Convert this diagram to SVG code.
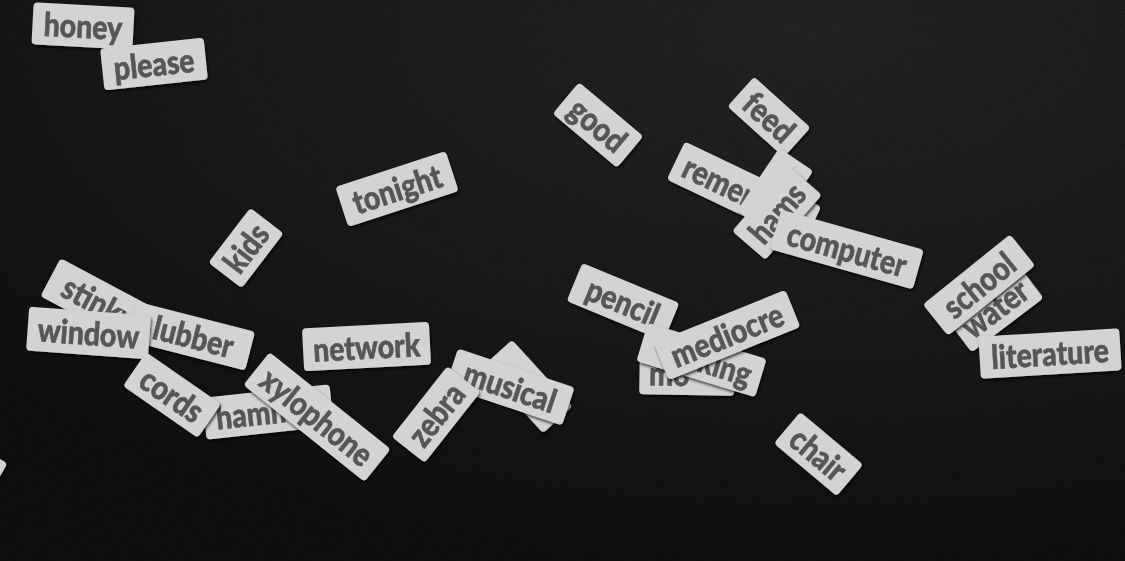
<svg xmlns="http://www.w3.org/2000/svg" width="1125" height="561" viewBox="0 0 1125 561">
<defs>
<radialGradient id="bg" cx="0.72" cy="0.05" r="0.95">
<stop offset="0" stop-color="#2b2b2b"/>
<stop offset="0.6" stop-color="#1d1d1d"/>
<stop offset="1" stop-color="#131313"/>
</radialGradient>
<filter id="grain" x="0" y="0" width="100%" height="100%">
<feTurbulence type="fractalNoise" baseFrequency="0.9" numOctaves="2" seed="3" result="n"/>
<feColorMatrix type="matrix" values="0 0 0 0 0  0 0 0 0 0  0 0 0 0 0  0 0 0 0.4 0"/>
</filter>
<filter id="sh" x="-30%" y="-30%" width="160%" height="160%">
<feDropShadow dx="1" dy="2" stdDeviation="1.6" flood-color="#000" flood-opacity="0.75"/>
</filter>
</defs>
<style>
.tile rect{fill:#d3d3d3}
.tile{filter:url(#sh)}
.t{font-family:Lato,"Open Sans","DejaVu Sans",sans-serif;font-weight:900;font-size:33px;fill:#575757;stroke:#575757;stroke-width:0.6px;text-anchor:middle}
.s{text-anchor:start}
.e{text-anchor:end}
</style>
<rect width="1125" height="561" fill="url(#bg)"/>
<rect width="1125" height="561" filter="url(#grain)"/>

<g id="tiles">
<g id="edge" class="tile"><g transform="translate(-42 459) rotate(30)"><rect x="-45" y="-21" width="90" height="42" rx="4"/></g></g>
<g id="honey" class="tile"><g transform="translate(83 26) rotate(3)"><rect x="-50.5" y="-21" width="101" height="42" rx="4"/><text class="t" y="12" transform="scale(0.86 1)">honey</text></g></g>
<g id="please" class="tile"><g transform="translate(154 64) rotate(-6)"><rect x="-52" y="-21" width="104" height="42" rx="4"/><text class="t" y="12" transform="scale(0.86 1)">please</text></g></g>
<g id="good" class="tile"><g transform="translate(598 125) rotate(40)"><rect x="-42" y="-20.5" width="84" height="41" rx="4"/><text class="t" y="12" transform="scale(0.86 1)">good</text></g></g>
<g id="feed" class="tile"><g transform="translate(769 117) rotate(42)"><rect x="-38" y="-20" width="76" height="40" rx="4"/><text class="t" y="12" transform="scale(0.86 1)">feed</text></g></g>
<g id="remember" class="tile"><g transform="translate(744 193) rotate(25.5)"><rect x="-75.5" y="-21" width="151" height="42" rx="4"/><text class="t" y="12" transform="scale(0.86 1)">remember</text></g></g>
<g id="blank-a" class="tile"><g transform="translate(775 191) rotate(-56)"><rect x="-38" y="-20.5" width="76" height="41" rx="4"/></g></g>
<g id="hams" class="tile"><g transform="translate(777 213) rotate(-49)"><rect x="-43" y="-22" width="86" height="44" rx="4"/><text class="t" y="12" transform="scale(0.86 1)">hams</text></g></g>
<g id="computer" class="tile"><g transform="translate(847 249.5) rotate(15.7)"><rect x="-74" y="-20.5" width="148" height="41" rx="4"/><text class="t" y="12" transform="scale(0.86 1)">computer</text></g></g>
<g id="tonight" class="tile"><g transform="translate(397 189) rotate(-18)"><rect x="-58" y="-21" width="116" height="42" rx="4"/><text class="t" y="12" transform="scale(0.86 1)">tonight</text></g></g>
<g id="kids" class="tile"><g transform="translate(246 248) rotate(-52.6)"><rect x="-34.5" y="-21" width="69" height="42" rx="4"/><text class="t" y="12" transform="scale(0.86 1)">kids</text></g></g>
<g id="stinky" class="tile"><g transform="translate(99 303) rotate(28)"><rect x="-55" y="-21.5" width="110" height="43" rx="4"/><text class="t" y="12" transform="scale(0.86 1)">stinky</text></g></g>
<g id="lubber" class="tile"><g transform="translate(191 336) rotate(14.3)"><rect x="-61" y="-20" width="122" height="40" rx="4"/><text class="t" x="3" y="12" transform="scale(0.86 1)">lubber</text></g></g>
<g id="window" class="tile"><g transform="translate(88.5 333) rotate(4.2)"><rect x="-61" y="-22" width="122" height="44" rx="4"/><text class="t" y="12" transform="scale(0.86 1)">window</text></g></g>
<g id="hammer" class="tile"><g transform="translate(268 412) rotate(-6)"><rect x="-64" y="-21" width="128" height="42" rx="4"/><text class="t" y="12" transform="scale(0.86 1)">hammer</text></g></g>
<g id="cords" class="tile"><g transform="translate(172 395) rotate(34.7)"><rect x="-45.5" y="-20.5" width="91" height="41" rx="4"/><text class="t" y="12" transform="scale(0.86 1)">cords</text></g></g>
<g id="xylophone" class="tile"><g transform="translate(317 417) rotate(38.7)"><rect x="-77.5" y="-21" width="155" height="42" rx="4"/><text class="t" y="12" transform="scale(0.86 1)">xylophone</text></g></g>
<g id="network" class="tile"><g transform="translate(366.5 346.5) rotate(-3)"><rect x="-63.5" y="-21.5" width="127" height="43" rx="4"/><text class="t" y="12.5" transform="scale(0.86 1)">network</text></g></g>
<g id="blank-b" class="tile"><g transform="translate(527.5 386.5) rotate(47.7)"><rect x="-45" y="-20" width="90" height="40" rx="4"/></g></g>
<g id="musical" class="tile"><g transform="translate(510 387) rotate(18.4)"><rect x="-61.5" y="-20" width="123" height="40" rx="4"/><text class="t" y="12" transform="scale(0.86 1)">musical</text></g></g>
<g id="zebra" class="tile"><g transform="translate(436 414.5) rotate(-51.7)"><rect x="-45" y="-21" width="90" height="42" rx="4"/><text class="t" y="12" transform="scale(0.86 1)">zebra</text></g></g>
<g id="pencil" class="tile"><g transform="translate(623 302) rotate(22.5)"><rect x="-52.5" y="-20.5" width="105" height="41" rx="4"/><text class="t" y="12" transform="scale(0.86 1)">pencil</text></g></g>
<g id="mo" class="tile"><g transform="translate(687 374) rotate(1)"><rect x="-47.5" y="-21" width="95" height="42" rx="4"/><text class="t s" x="-44" y="12" transform="scale(0.86 1)">mo</text></g></g>
<g id="king" class="tile"><g transform="translate(701.5 360) rotate(17)"><rect x="-62" y="-20" width="124" height="40" rx="4"/><text class="t e" x="60" y="12" transform="scale(0.86 1)">king</text></g></g>
<g id="mediocre" class="tile"><g transform="translate(727 335) rotate(-22)"><rect x="-71" y="-20" width="142" height="40" rx="4"/><text class="t" y="12" transform="scale(0.86 1)">mediocre</text></g></g>
<g id="chair" class="tile"><g transform="translate(818.5 454) rotate(40)"><rect x="-41" y="-20.5" width="82" height="41" rx="4"/><text class="t" y="12" transform="scale(0.86 1)">chair</text></g></g>
<g id="water" class="tile"><g transform="translate(995 308.5) rotate(-37)"><rect x="-45" y="-21" width="90" height="42" rx="4"/><text class="t" y="12" transform="scale(0.86 1)">water</text></g></g>
<g id="school" class="tile"><g transform="translate(979 285) rotate(-38.8)"><rect x="-56" y="-20" width="112" height="40" rx="4"/><text class="t" y="12" transform="scale(0.86 1)">school</text></g></g>
<g id="literature" class="tile"><g transform="translate(1050 353.5) rotate(-3.5)"><rect x="-70.5" y="-21" width="141" height="42" rx="4"/><text class="t" y="12" transform="scale(0.86 1)">literature</text></g></g>
</g>
<g id="connectors"/>
</svg>
